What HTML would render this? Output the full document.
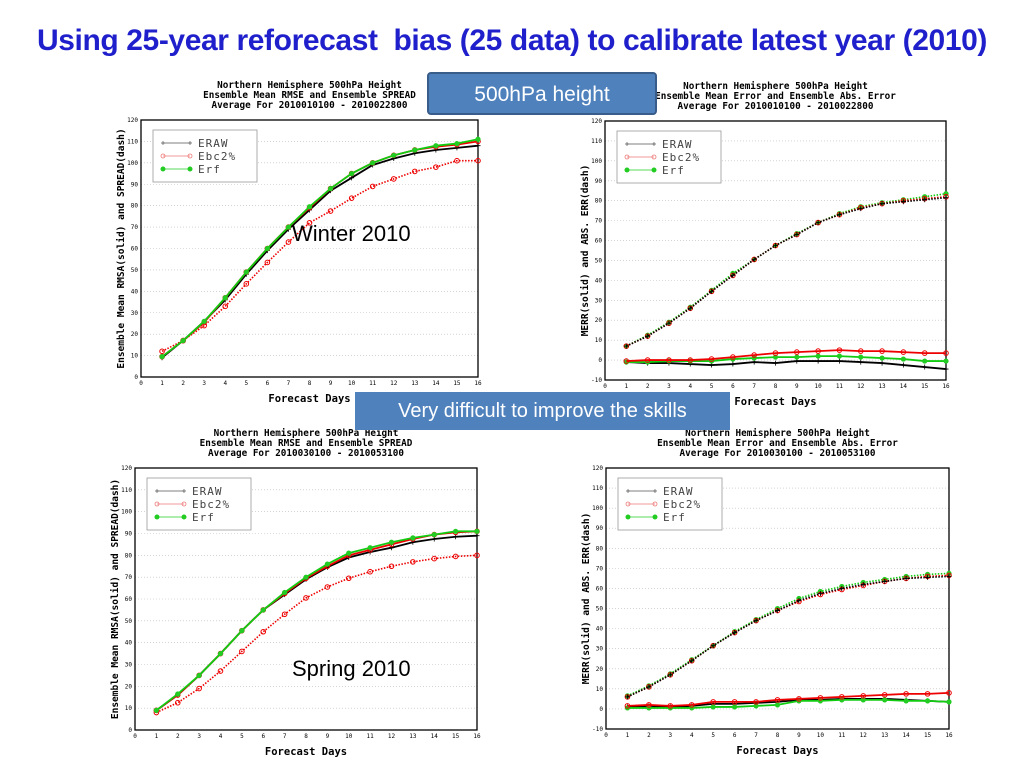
<!DOCTYPE html>
<html><head><meta charset="utf-8"><style>
body{margin:0;width:1024px;height:768px;background:#fff;position:relative;overflow:hidden;font-family:"Liberation Sans",sans-serif}
#title{position:absolute;left:0;width:1024px;top:24px;text-align:center;color:#1f1fcc;font-weight:bold;font-size:30px;font-family:"Liberation Sans",sans-serif;letter-spacing:-0.4px;white-space:nowrap}
.box{position:absolute;background:#4f81bd;color:#fff;text-align:center;font-size:20px;box-sizing:border-box}
.season{position:absolute;font-size:22px;color:#000}
svg{position:absolute;left:0;top:0}
</style></head><body>
<div id="title">Using 25-year reforecast&nbsp; bias (25 data) to calibrate latest year (2010)</div>
<svg id="svg" width="1024" height="768"></svg>
<div class="box" style="left:427px;top:72px;width:230px;height:43px;line-height:41px;border:2px solid #385d8a;border-radius:4px;font-size:21px">500hPa height</div>
<div class="box" style="left:355px;top:392px;width:375px;height:38px;line-height:38px">Very difficult to improve the skills</div>
<div class="season" style="left:292px;top:221px">Winter 2010</div>
<div class="season" style="left:292px;top:656px">Spring 2010</div>
<script>
const days=[1,2,3,4,5,6,7,8,9,10,11,12,13,14,15,16];
const xTicks=[0,1,2,3,4,5,6,7,8,9,10,11,12,13,14,15,16];
const rmseTicks=[0,10,20,30,40,50,60,70,80,90,100,110,120];
const merrTicks=[-10,0,10,20,30,40,50,60,70,80,90,100,110,120];
// Winter RMSE
const wRmseEraw=[9,17,26,36,48,59,69,78,87,93,99,102,104.5,106,107,108];
const wRmseEbc=[9.5,17,25.5,37,49,60,70,79,88,95,100,103.5,106,107.5,108.5,110];
const wRmseErf=[9.5,17,26,37,49,60,70,79.5,88,95,100,103.5,106,108,109,111];
const wSpreadEbc=[12,17,24,33,43.5,53.5,63,72,77.5,83.5,89,92.5,96,98,101,101];
// Winter MERR
const wAbsEraw=[7,12,18.5,26,34.5,42.5,50.5,57.5,63,69,73,76,78.5,79.5,80.5,81.5];
const wAbsEbc=[7,12,18.5,26,34.5,42.5,50.5,57.5,63,69,73,76.5,78.5,80,81,82];
const wAbsErf=[7,12.5,19,26.5,35,43.5,50.5,57.5,63.5,69,73.5,77,79,80.5,82,83.5];
const wMerrEraw=[-1,-1.5,-1.5,-2,-2.5,-2,-1,-1.5,-0.5,-0.5,-0.5,-1,-1.5,-2.5,-3.5,-4.5];
const wMerrEbc=[-0.5,0,0,0,0.5,1.5,2.5,3.5,4,4.5,5,4.5,4.5,4,3.5,3.5];
const wMerrErf=[-1,-1,-0.5,-0.5,-0.5,0.5,1,1.5,1.5,2,2,1.5,1,0.5,-0.5,-0.5];
// Spring RMSE
const sRmseEraw=[9,16,25,35,45.5,55,62,69,74.5,79,81.5,83.5,86,87.5,88.5,89];
const sRmseEbc=[9,16,25,35,45.5,55,62.5,69.5,75,80,82.5,85,87.5,89.5,90.5,91];
const sRmseErf=[9,16.5,25,35,45.5,55,63,70,76,81,83.5,86,88,89.5,91,91];
const sSpreadEbc=[8,12.5,19,27,36,45,53,60.5,65.5,69.5,72.5,75,77,78.5,79.5,80];
// Spring MERR
const sAbsEraw=[6,11,17,24,31.5,38,44,49,54,57.5,60,62,63.5,65,65.5,66];
const sAbsEbc=[6,11,17,24,31.5,38,44,49,53.5,57,59.5,61.5,63.5,65,66,66.5];
const sAbsErf=[6.5,11.5,17.5,24.5,31.5,38.5,44.5,50,55,58.5,61,63,64.5,66,67,67.5];
const sMerrEraw=[1,1.5,1,1.5,2.5,2.5,3,3.5,4.5,4.5,5,5,5,4.5,4,3.5];
const sMerrEbc=[1.5,2,1.5,2,3.5,3.5,3.5,4.5,5,5.5,6,6.5,7,7.5,7.5,8];
const sMerrErf=[0.5,0.5,0.5,0.5,1,1,1.5,2,4,4,4.5,4.5,4.5,4,4,3.5];

const NS='http://www.w3.org/2000/svg';
const svg=document.getElementById('svg');
function el(t,a,p){const e=document.createElementNS(NS,t);for(const k in a)e.setAttribute(k,a[k]);(p||svg).appendChild(e);return e;}
const COL={eraw:'#000',ebc:'#e00',erf:'#1c1'};
const MONO='"DejaVu Sans Mono","Liberation Mono",monospace';

function chart(name,box,ymin,ymax,ticks,titles,ylab,series){
  const g=el('g',{});
  
  
  const X=v=>box.x0+(v/16)*(box.x1-box.x0);
  const Y=v=>box.y1-(v-ymin)/(ymax-ymin)*(box.y1-box.y0);
  titles.forEach((t,i)=>{const tx=el('text',{x:(box.x0+box.x1)/2,y:box.y0-32+i*10,'text-anchor':'middle','font-size':9.3,'font-weight':'bold','font-family':MONO},g);tx.textContent=t;});
  ticks.forEach(v=>{
    if(v!==ymin&&v!==ymax){el('line',{x1:box.x0,x2:box.x1,y1:Y(v),y2:Y(v),stroke:'#bbb','stroke-width':0.6,'stroke-dasharray':'1,2'},g);}
    const t=el('text',{x:box.x0-3,y:Y(v)+2,'text-anchor':'end','font-size':6,'font-family':MONO},g);t.textContent=v;
  });
  xTicks.forEach(v=>{const t=el('text',{x:X(v),y:box.y1+8,'text-anchor':'middle','font-size':6,'font-family':MONO},g);t.textContent=v;});
  const ax=el('rect',{x:box.x0,y:box.y0,width:box.x1-box.x0,height:box.y1-box.y0,fill:'none',stroke:'#000','stroke-width':1.3},g);
  
  
  const xl=el('text',{x:(box.x0+box.x1)/2,y:box.y1+25,'text-anchor':'middle','font-size':10.5,'font-weight':'bold','font-family':MONO},g);
  xl.textContent='Forecast Days';
  
  
  const cy=(box.y0+box.y1)/2;
  const yl=el('text',{x:box.x0-17,y:cy,'text-anchor':'middle','font-size':9.5,'font-weight':'bold','font-family':MONO,transform:`rotate(-90 ${box.x0-17} ${cy})`},g);
  yl.textContent=ylab;
  
  
  series.forEach(s=>{
    const pts=s.v.map((v,i)=>X(days[i])+','+Y(v)).join(' ');
    const pl=el('polyline',{points:pts,fill:'none',stroke:COL[s.k],'stroke-width':s.d?1.6:1.8,'stroke-dasharray':s.d?'1.5,1.5':'none'},g);
    
    
    s.v.forEach((v,i)=>{
      const cx=X(days[i]),yy=Y(v);
      if(s.k==='erf'){el('circle',{cx:cx,cy:yy,r:2.6,fill:'#2c2'},g);}
      else if(s.k==='ebc'){el('circle',{cx:cx,cy:yy,r:2.3,fill:'none',stroke:'#e00','stroke-width':1},g);}
      else{el('path',{d:`M${cx-2.5} ${yy}h5M${cx} ${yy-2.5}v5`,stroke:'#000','stroke-width':0.8},g);}
    });
  });
  const lx=box.x0+12,ly=box.y0+10;
  const lg=el('g',{},g);
  
  
  el('rect',{x:lx,y:ly,width:104,height:52,fill:'#fff',stroke:'#999','stroke-width':0.8},lg);
  [['eraw','ERAW'],['ebc','Ebc2%'],['erf','Erf']].forEach((e,i)=>{
    const yy=ly+13+i*13;
    const ent=el('g',{},lg);
    
    
    el('line',{x1:lx+10,x2:lx+37,y1:yy,y2:yy,stroke:e[0]==='ebc'?'#e77':e[0]==='erf'?'#2c2':'#555','stroke-width':0.8},ent);
    [lx+10,lx+37].forEach(px=>{
      if(e[0]==='erf')el('circle',{cx:px,cy:yy,r:2.5,fill:'#2c2'},ent);
      else if(e[0]==='ebc')el('circle',{cx:px,cy:yy,r:2,fill:'none',stroke:'#e77','stroke-width':0.8},ent);
      else el('path',{d:`M${px-2} ${yy}h4M${px} ${yy-2}v4`,stroke:'#555','stroke-width':0.7},ent);
    });
    const t=el('text',{x:lx+45,y:yy+4,'font-size':11,'font-family':MONO,fill:'#444','letter-spacing':'1'},ent);t.textContent=e[1];
  });
}
chart('winter-rmse-chart',{x0:141,x1:478,y0:120,y1:377},0,120,rmseTicks,
 ['Northern Hemisphere 500hPa Height','Ensemble Mean RMSE and Ensemble SPREAD','Average For 2010010100 - 2010022800'],
 'Ensemble Mean RMSA(solid) and SPREAD(dash)',
 [{k:'ebc',v:wSpreadEbc,d:1},{k:'eraw',v:wRmseEraw},{k:'ebc',v:wRmseEbc},{k:'erf',v:wRmseErf}]);
chart('winter-merr-chart',{x0:605,x1:946,y0:121,y1:380},-10,120,merrTicks,
 ['Northern Hemisphere 500hPa Height','Ensemble Mean Error and Ensemble Abs. Error','Average For 2010010100 - 2010022800'],
 'MERR(solid) and ABS. ERR(dash)',
 [{k:'erf',v:wAbsErf,d:1},{k:'ebc',v:wAbsEbc,d:1},{k:'eraw',v:wAbsEraw,d:1},{k:'eraw',v:wMerrEraw},{k:'erf',v:wMerrErf},{k:'ebc',v:wMerrEbc}]);
chart('spring-rmse-chart',{x0:135,x1:477,y0:468,y1:730},0,120,rmseTicks,
 ['Northern Hemisphere 500hPa Height','Ensemble Mean RMSE and Ensemble SPREAD','Average For 2010030100 - 2010053100'],
 'Ensemble Mean RMSA(solid) and SPREAD(dash)',
 [{k:'ebc',v:sSpreadEbc,d:1},{k:'eraw',v:sRmseEraw},{k:'ebc',v:sRmseEbc},{k:'erf',v:sRmseErf}]);
chart('spring-merr-chart',{x0:606,x1:949,y0:468,y1:729},-10,120,merrTicks,
 ['Northern Hemisphere 500hPa Height','Ensemble Mean Error and Ensemble Abs. Error','Average For 2010030100 - 2010053100'],
 'MERR(solid) and ABS. ERR(dash)',
 [{k:'erf',v:sAbsErf,d:1},{k:'ebc',v:sAbsEbc,d:1},{k:'eraw',v:sAbsEraw,d:1},{k:'eraw',v:sMerrEraw},{k:'erf',v:sMerrErf},{k:'ebc',v:sMerrEbc}]);
</script>
</body></html>
